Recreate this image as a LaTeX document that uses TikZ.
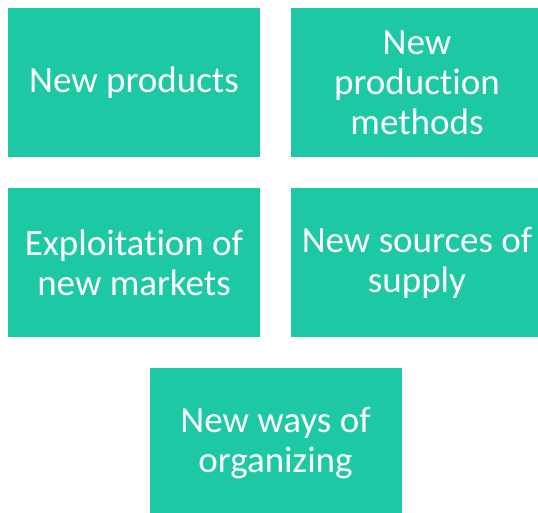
\documentclass[tikz,border=0pt]{standalone}
\usepackage{fontspec}
\setmainfont{Carlito}[Ligatures=NoCommon]
\usepackage{tikz}
\usetikzlibrary{positioning,calc}
\definecolor{tealbox}{RGB}{29,200,165}

\begin{document}
\begin{tikzpicture}[x=1pt, y=1pt,
            box/.style={rectangle, fill=tealbox, text=white, minimum width=252pt, minimum height=149pt,
                        inner sep=0pt, outer sep=0pt, align=center, font=\fontsize{37}{40}\selectfont}
        ]
        \useasboundingbox (0,0) rectangle (538,-512);
        \node[box] (prod) at (134,-82.5) {New products};
        \node[box, right=31pt of prod] (meth) {New\\production\\methods};
        \node[box, below=31pt of prod] (mark) {Exploitation of\\new markets};
        \node[box, right=31pt of mark] (supp) {New sources of\\supply};
        \coordinate (mid) at ($(mark.south)!0.5!(supp.south)$);
        \node[box, below=31pt of mid] (orga) {New ways of\\organizing};
        \end{tikzpicture}
\end{document}
